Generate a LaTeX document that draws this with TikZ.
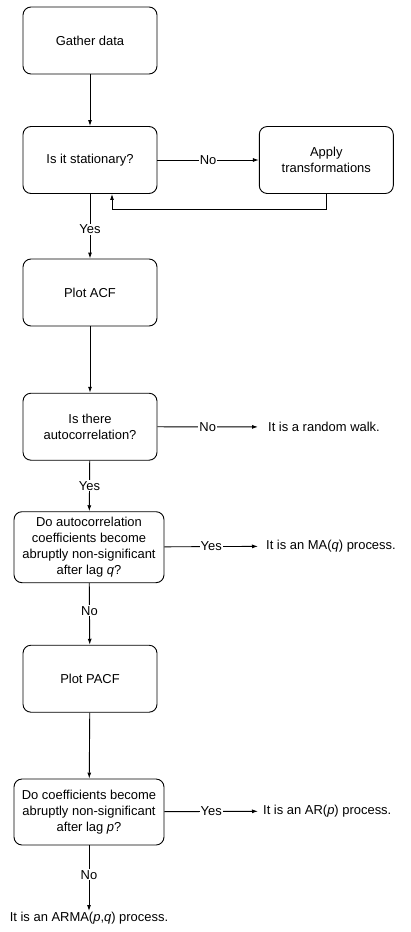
\documentclass[tikz,border=0pt]{standalone}
\usepackage{fontspec}
\setmainfont{Liberation Sans}
\usetikzlibrary{arrows.meta}
\begin{document}
\begin{tikzpicture}[x=1bp,y=-1bp,
  base/.style={font=\fontsize{13}{16}\selectfont},
  box/.style={base, draw, rounded corners=8bp, line width=0.9bp, align=center, inner sep=2bp, minimum width=134bp, minimum height=67bp},
  wbox/.style={box, minimum width=150bp},
  arr/.style={-{Latex[length=6bp,width=4bp]}, line width=0.9bp},
  lbl/.style={base, fill=white, inner sep=1bp},
  txt/.style={base, inner ysep=1bp, inner xsep=8bp, anchor=west}
]
\useasboundingbox (0,0) rectangle (410,932);
\node[box] (gather) at (90,40.5) {Gather data};
\node[box] (stat) at (90,160) {Is it stationary?};
\node[box] (apply) at (326.3,160) {Apply\\transformations};
\node[box] (acf) at (90,292.5) {Plot ACF};
\node[box] (auto) at (90,426.7) {Is there\\autocorrelation?};
\node[wbox, minimum height=71bp] (ma) at (89,547.2) {Do autocorrelation\\coefficients become\\abruptly non-significant\\after lag \textit{q}?};
\node[box] (pacf) at (90,678.7) {Plot PACF};
\node[wbox, minimum height=66bp] (ar) at (89,812) {Do coefficients become\\abruptly non-significant\\after lag \textit{p}?};
\node[txt, inner xsep=10bp] (rw) at (258,427) {It is a random walk.};
\node[txt] (mat) at (258,546) {It is an MA(\textit{q}) process.};
\node[txt, inner xsep=5bp] (art) at (258,811) {It is an AR(\textit{p}) process.};
\node[base, anchor=north, inner sep=1bp] (arma) at (89,911) {It is an ARMA(\textit{p},\textit{q}) process.};
\draw[arr] (gather) -- (stat);
\draw[arr] (stat) -- node[lbl] {No} (apply);
\draw[arr] (apply.south) -- ++(0,15.3) -| ([xshift=22bp]stat.south);
\draw[arr] (stat) -- node[lbl, pos=0.55] {Yes} (acf);
\draw[arr] (acf) -- (auto);
\draw[arr] (auto) -- node[lbl] {No} (rw);
\draw[arr] (auto) -- node[lbl] {Yes} (ma);
\draw[arr] (ma) -- node[lbl] {Yes} (mat);
\draw[arr] (ma) -- node[lbl, pos=0.45] {No} (pacf);
\draw[arr] (pacf) -- (ar);
\draw[arr] (ar) -- node[lbl] {Yes} (art);
\draw[arr] (ar) -- node[lbl, pos=0.45] {No} (arma);
\end{tikzpicture}
\end{document}
